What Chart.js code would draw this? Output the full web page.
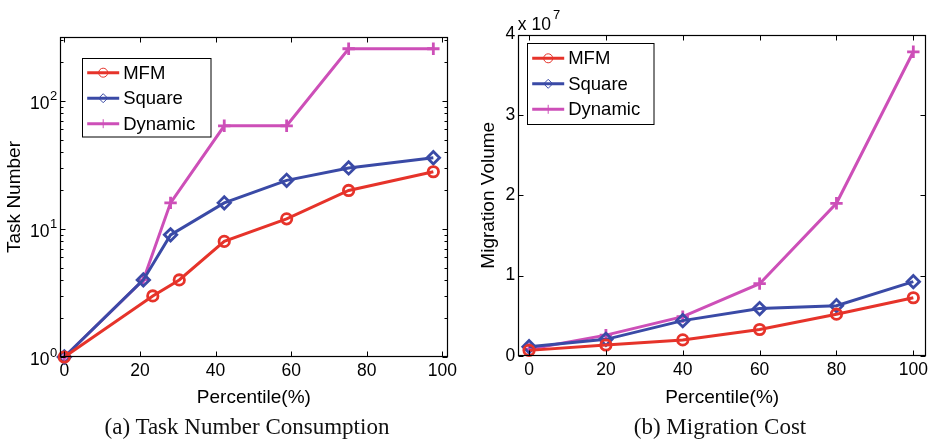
<!DOCTYPE html>
<html>
<head>
<meta charset="utf-8">
<script src="https://cdn.jsdelivr.net/npm/chart.js@4.4.1/dist/chart.umd.min.js"></script>
<style>
  body { margin: 0; background: #fff; }
  #wrap { position: relative; width: 935px; height: 440px; overflow: hidden; }
  canvas { position: absolute; top: 0; }
  #left { left: 0; }
  #right { left: 467px; }
  .caption { position: absolute; top: 414px; font: 23px "Liberation Serif", serif; line-height: 26px; white-space: nowrap; transform: translateX(-50%); color: #111; }
</style>
</head>
<body>
<div id="wrap">
  <canvas id="left" width="467" height="440"></canvas>
  <canvas id="right" width="468" height="440"></canvas>
  <div class="caption" style="left:247px">(a) Task Number Consumption</div>
  <div class="caption" style="left:720px">(b) Migration Cost</div>
</div>
<script>
// series names
const seriesNames = ['MFM', 'Square', 'Dynamic'];

// (a) task number consumption (log y)
const taskMfmX = [0, 23.4, 30.4, 42.3, 58.8, 75.2, 97.6];
const taskMfmY = [1, 3, 4, 8, 12, 20, 28];
const taskSquareX = [0, 20.9, 28.1, 42.3, 58.8, 75.2, 97.6];
const taskSquareY = [1, 4, 9, 16, 24, 30, 36];
const taskDynamicX = [0, 20.9, 28.1, 42.3, 58.8, 75.2, 97.6];
const taskDynamicY = [1, 4, 16, 64, 64, 256, 256];

// (b) migration cost
const percentiles = [0, 20, 40, 60, 80, 100];
const volMfm = [700000, 1370000, 2000000, 3300000, 5200000, 7250000];
const volSquare = [1160000, 2070000, 4400000, 5900000, 6260000, 9250000];
const volDynamic = [830000, 2600000, 4900000, 9000000, 19000000, 37850000];

// tick labels
const percentTicks = [0, 20, 40, 60, 80, 100];
const taskTicks = [1, 10, 100];
const volumeTicks = [0, 1e7, 2e7, 3e7, 4e7];

const colors = ['#e6332a', '#3a4aa6', '#cd4fb8'];
const styles = ['circle', 'rectRot', 'cross'];
const radii = [5.2, 6.2, 6.2];
const fontFamily = '"Liberation Sans", Arial, sans-serif';

function makeSet(i, xs, ys) {
  return {
    label: seriesNames[i],
    data: xs.map((x, k) => ({ x: x, y: ys[k] })),
    borderColor: colors[i],
    borderWidth: 3,
    pointStyle: styles[i],
    pointRadius: radii[i],
    pointBorderWidth: 2.8,
    pointBorderColor: colors[i],
    pointBackgroundColor: 'rgba(0,0,0,0)',
    fill: false,
    tension: 0,
    clip: false
  };
}

function drawMarker(ctx, style, x, y, r) {
  ctx.beginPath();
  if (style === 'circle') {
    ctx.arc(x, y, r, 0, Math.PI * 2);
  } else if (style === 'rectRot') {
    ctx.moveTo(x - r, y); ctx.lineTo(x, y - r); ctx.lineTo(x + r, y); ctx.lineTo(x, y + r); ctx.closePath();
  } else {
    ctx.moveTo(x - r, y); ctx.lineTo(x + r, y); ctx.moveTo(x, y - r); ctx.lineTo(x, y + r);
  }
  ctx.stroke();
}

// box, inward ticks, custom labels and legend (matlab look)
const frame = {
  id: 'frame',
  afterDraw(chart, args, opts) {
    const ctx = chart.ctx;
    const a = chart.chartArea;
    const sx = chart.scales.x, sy = chart.scales.y;
    ctx.save();
    ctx.strokeStyle = '#000';
    ctx.lineWidth = 1;
    const L = Math.round(a.left) + 0.5, R = Math.round(a.right) - 0.5;
    const T = Math.round(a.top) + 0.5, B = Math.round(a.bottom) - 0.5;

    ctx.beginPath();
    percentTicks.forEach(v => {
      const px = Math.round(sx.getPixelForValue(v)) + 0.5;
      ctx.moveTo(px, B); ctx.lineTo(px, B - 5);
      ctx.moveTo(px, T); ctx.lineTo(px, T + 5);
    });
    const yTicks = opts.log ? taskTicks : volumeTicks;
    yTicks.forEach(v => {
      const py = Math.round(sy.getPixelForValue(v)) + 0.5;
      ctx.moveTo(L, py); ctx.lineTo(L + 5, py);
      ctx.moveTo(R, py); ctx.lineTo(R - 5, py);
    });
    if (opts.log) {
      taskTicks.forEach(d => {
        for (let m = 2; m <= 9; m++) {
          const v = d * m;
          if (v > sy.max) break;
          const py = Math.round(sy.getPixelForValue(v)) + 0.5;
          ctx.moveTo(L, py); ctx.lineTo(L + 3, py);
          ctx.moveTo(R, py); ctx.lineTo(R - 3, py);
        }
      });
    }
    ctx.stroke();
    ctx.lineWidth = 1.2;
    ctx.strokeRect(L, T, R - L, B - T);

    ctx.fillStyle = '#000';
    if (opts.log) {
      taskTicks.forEach(v => {
        const py = sy.getPixelForValue(v);
        ctx.font = '17.5px ' + fontFamily;
        ctx.textAlign = 'right';
        ctx.textBaseline = 'alphabetic';
        ctx.fillText('10', a.left - 10.5, py + 8);
        ctx.font = '13px ' + fontFamily;
        ctx.textAlign = 'left';
        ctx.fillText(String(Math.round(Math.log10(v))), a.left - 10, py - 0.5);
      });
    } else {
      ctx.font = '17.5px ' + fontFamily;
      ctx.textAlign = 'left';
      ctx.textBaseline = 'alphabetic';
      ctx.fillText('x 10', a.left - 0.5, 30);
      const w = ctx.measureText('x 10').width;
      ctx.font = '13px ' + fontFamily;
      ctx.fillText('7', a.left + w + 1.5, 18.5);
    }

    // legend
    const box = opts.box;
    ctx.fillStyle = '#fff';
    ctx.fillRect(box.x, box.y, box.w, box.h);
    ctx.strokeStyle = '#000';
    ctx.lineWidth = 1;
    ctx.strokeRect(Math.round(box.x) + 0.5, Math.round(box.y) + 0.5, box.w, box.h);
    chart.data.datasets.forEach((ds, i) => {
      const y = box.y + 15 + i * 25.5;
      ctx.strokeStyle = ds.borderColor;
      ctx.lineWidth = 3;
      ctx.beginPath();
      ctx.moveTo(box.x + 5.5, y); ctx.lineTo(box.x + 37.5, y);
      ctx.stroke();
      ctx.lineWidth = 1;
      ctx.fillStyle = '#fff';
      drawMarker(ctx, ds.pointStyle, box.x + 21.5, y, 4.5);
      ctx.fillStyle = '#000';
      ctx.font = '18.5px ' + fontFamily;
      ctx.textAlign = 'left';
      ctx.textBaseline = 'middle';
      ctx.fillText(ds.label, box.x + 41.5, y + 1);
    });
    ctx.restore();
  }
};

const axisFont = { family: fontFamily, size: 17.5 };
const titleFont = { family: fontFamily, size: 19 };

// Task Number Consumption
new Chart(document.getElementById('left'), {
  type: 'line',
  data: {
    datasets: [
      makeSet(0, taskMfmX, taskMfmY),
      makeSet(1, taskSquareX, taskSquareY),
      makeSet(2, taskDynamicX, taskDynamicY)
    ]
  },
  options: {
    animation: false,
    responsive: false,
    devicePixelRatio: 1,
    layout: { padding: { left: 3.6, right: 19.3, top: 37, bottom: 30.6 } },
    plugins: {
      legend: { display: false },
      tooltip: { enabled: false },
      frame: { log: true, box: { x: 81.7, y: 57.7, w: 128.5, h: 78.5 } }
    },
    scales: {
      x: {
        type: 'linear',
        min: -1.14,
        max: 101.4,
        afterBuildTicks: s => { s.ticks = percentTicks.map(v => ({ value: v })); },
        afterFit: s => { s.height = 52.4; },
        grid: { display: false, drawTicks: false },
        border: { display: false },
        ticks: { padding: 4, font: axisFont, color: '#000', maxRotation: 0, autoSkip: false },
        title: { display: true, text: 'Percentile(%)', font: titleFont, color: '#000', padding: 0 }
      },
      y: {
        type: 'logarithmic',
        min: 1,
        max: 316.2,
        afterBuildTicks: s => { s.ticks = taskTicks.map(v => ({ value: v })); },
        afterFit: s => { s.width = 56.4; },
        grid: { display: false, drawTicks: false },
        border: { display: false },
        ticks: { display: false },
        title: { display: true, text: 'Task Number', font: titleFont, color: '#000', padding: 0 }
      }
    }
  },
  plugins: [frame]
});

// Migration Cost
new Chart(document.getElementById('right'), {
  type: 'line',
  data: {
    datasets: [
      makeSet(0, percentiles, volMfm),
      makeSet(1, percentiles, volSquare),
      makeSet(2, percentiles, volDynamic)
    ]
  },
  options: {
    animation: false,
    responsive: false,
    devicePixelRatio: 1,
    layout: { padding: { left: 10.6, right: 9, top: 34.5, bottom: 30.6 } },
    plugins: {
      legend: { display: false },
      tooltip: { enabled: false },
      frame: { log: false, box: { x: 59.7, y: 43.3, w: 126.5, h: 81 } }
    },
    scales: {
      x: {
        type: 'linear',
        min: -2.8,
        max: 103.3,
        afterBuildTicks: s => { s.ticks = percentTicks.map(v => ({ value: v })); },
        afterFit: s => { s.height = 53.4; },
        grid: { display: false, drawTicks: false },
        border: { display: false },
        ticks: { padding: 4, font: axisFont, color: '#000', maxRotation: 0, autoSkip: false },
        title: { display: true, text: 'Percentile(%)', font: titleFont, color: '#000', padding: 0 }
      },
      y: {
        type: 'linear',
        min: 0,
        max: 4e7,
        afterBuildTicks: s => { s.ticks = volumeTicks.map(v => ({ value: v })); },
        afterFit: s => { s.width = 40.7; },
        grid: { display: false, drawTicks: false },
        border: { display: false },
        ticks: { padding: 3, font: axisFont, color: '#000', callback: v => v / 1e7 },
        title: { display: true, text: 'Migration Volume', font: titleFont, color: '#000', padding: 0 }
      }
    }
  },
  plugins: [frame]
});
</script>
</body>
</html>
